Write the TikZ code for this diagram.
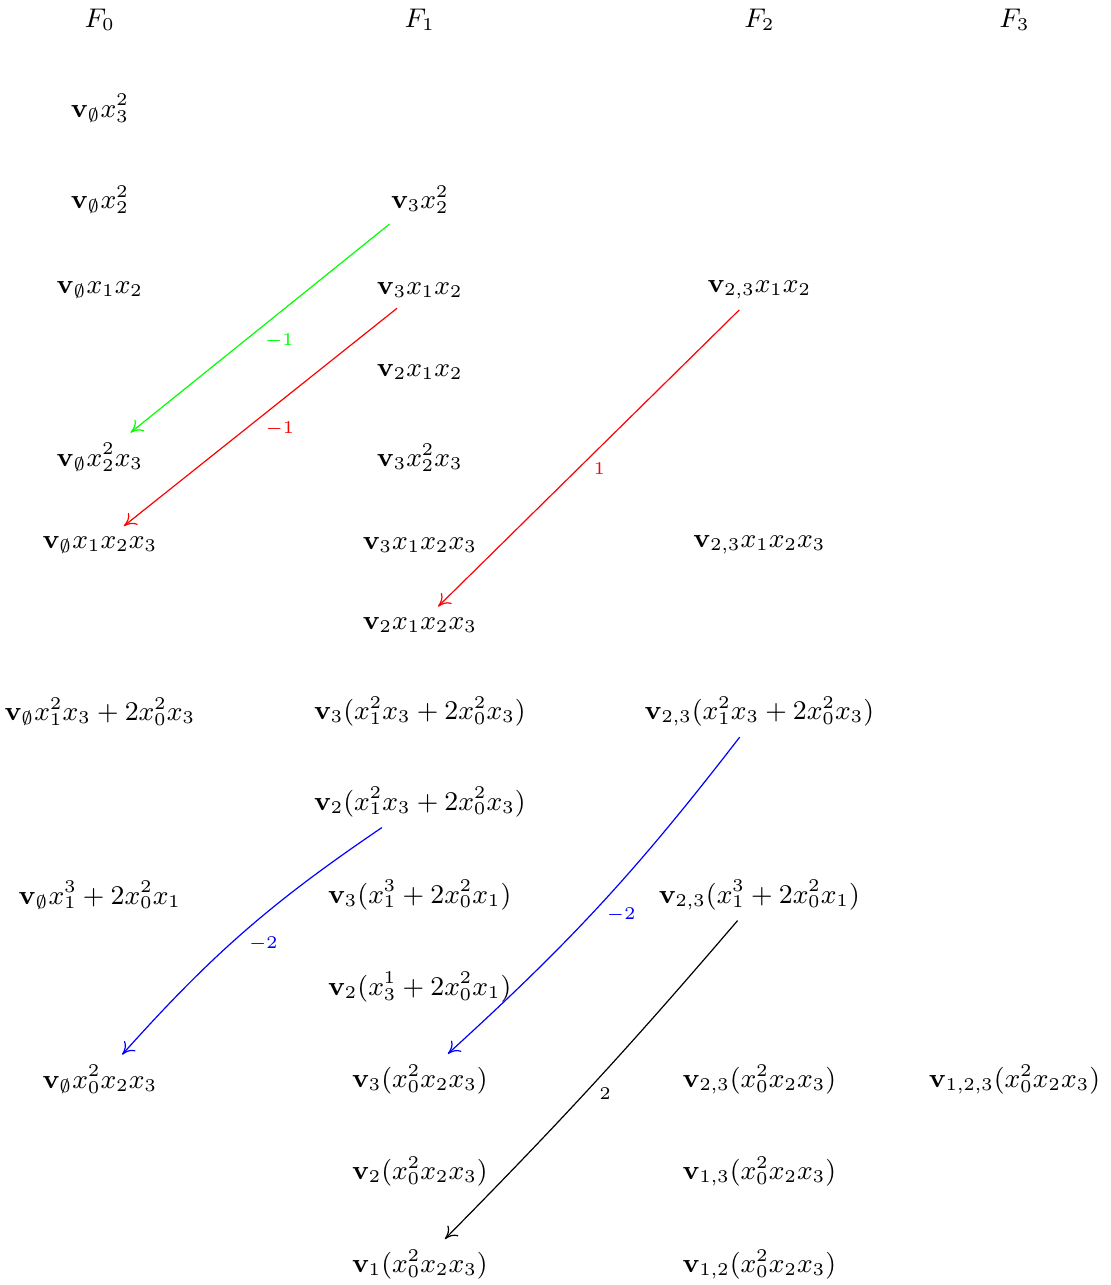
\documentclass[tikz,border=0pt]{standalone}
\usepackage{amsmath}
\usetikzlibrary{arrows.meta}

\begin{document}
\begin{tikzpicture}[>={Computer Modern Rightarrow[length=4pt,width=5pt]},
    every node/.style={font=\fontsize{8.9}{10.7}\selectfont},
    lab/.style={font=\fontsize{6.4}{7.7}\selectfont, auto, inner sep=1.5pt}]
  % Filtration of monomials, columns F_0 .. F_3
  \useasboundingbox (0,0) rectangle (13.02,-15.06);

  % Column headers
  \node (h0) at (1.17,-0.23) {$F_0$};
  \node (h1) at (4.92,-0.23) {$F_1$};
  \node (h2) at (8.90,-0.23) {$F_2$};
  \node (h3) at (11.89,-0.23) {$F_3$};

  % Column F_0
  \node (v0r1) at (1.17,-1.27) {$\mathbf{v}_\emptyset x_3^2$};
  \node (v0r2) at (1.17,-2.34) {$\mathbf{v}_\emptyset x_2^2$};
  \node (v0r3) at (1.17,-3.40) {$\mathbf{v}_\emptyset x_1x_2$};
  \node (v0r5) at (1.17,-5.36) {$\mathbf{v}_\emptyset x_2^2x_3$};
  \node (v0r6) at (1.17,-6.39) {$\mathbf{v}_\emptyset x_1x_2x_3$};
  \node (v0r8) at (1.17,-8.34) {$\mathbf{v}_\emptyset x_1^2x_3 + 2x_0^2x_3$};
  \node (v0r10) at (1.17,-10.49) {$\mathbf{v}_\emptyset x_1^3 + 2x_0^2x_1$};
  \node (v0r12) at (1.17,-12.65) {$\mathbf{v}_\emptyset x_0^2x_2x_3$};

  % Column F_1
  \node (v1r2) at (4.92,-2.34) {$\mathbf{v}_3 x_2^2$};
  \node (v1r3) at (4.92,-3.40) {$\mathbf{v}_3 x_1x_2$};
  \node (v1r4) at (4.92,-4.36) {$\mathbf{v}_2 x_1x_2$};
  \node (v1r5) at (4.92,-5.36) {$\mathbf{v}_3 x_2^2x_3$};
  \node (v1r6) at (4.92,-6.39) {$\mathbf{v}_3 x_1x_2x_3$};
  \node (v1r7) at (4.92,-7.32) {$\mathbf{v}_2 x_1x_2x_3$};
  \node (v1r8) at (4.92,-8.34) {$\mathbf{v}_3(x_1^2x_3 + 2x_0^2x_3)$};
  \node (v1r9) at (4.92,-9.40) {$\mathbf{v}_2(x_1^2x_3 + 2x_0^2x_3)$};
  \node (v1r10) at (4.92,-10.49) {$\mathbf{v}_3(x_1^3 + 2x_0^2x_1)$};
  \node (v1r11) at (4.92,-11.57) {$\mathbf{v}_2(x_3^1 + 2x_0^2x_1)$};
  \node (v1r12) at (4.92,-12.65) {$\mathbf{v}_3(x_0^2x_2x_3)$};
  \node (v1r13) at (4.92,-13.73) {$\mathbf{v}_2(x_0^2x_2x_3)$};
  \node (v1r14) at (4.92,-14.82) {$\mathbf{v}_1(x_0^2x_2x_3)$};

  % Column F_2
  \node (v2r3) at (8.90,-3.40) {$\mathbf{v}_{2,3}x_1x_2$};
  \node (v2r6) at (8.90,-6.39) {$\mathbf{v}_{2,3}x_1x_2x_3$};
  \node (v2r8) at (8.90,-8.34) {$\mathbf{v}_{2,3}(x_1^2x_3 + 2x_0^2x_3)$};
  \node (v2r10) at (8.90,-10.49) {$\mathbf{v}_{2,3}(x_1^3 + 2x_0^2x_1)$};
  \node (v2r12) at (8.90,-12.65) {$\mathbf{v}_{2,3}(x_0^2x_2x_3)$};
  \node (v2r13) at (8.90,-13.73) {$\mathbf{v}_{1,3}(x_0^2x_2x_3)$};
  \node (v2r14) at (8.90,-14.82) {$\mathbf{v}_{1,2}(x_0^2x_2x_3)$};

  % Column F_3
  \node (v3r12) at (11.89,-12.65) {$\mathbf{v}_{1,2,3}(x_0^2x_2x_3)$};

  % Differentials
  \draw[->, green] (v1r2) -- (v0r5) node[lab, midway] {$-1$};
  \draw[->, red] (v1r3) -- (v0r6) node[lab, midway] {$-1$};
  \draw[->, red] (v2r3) -- (v1r7) node[lab, midway] {$1$};
  \draw[->, blue] (v1r9) to[bend right=7] node[lab] {$-2$} (v0r12);
  \draw[->, blue] (v2r8) to[bend left=5] node[lab] {$-2$} (v1r12);
  \draw[->] (v2r10) to[bend left=2] node[lab] {$2$} (v1r14);
\end{tikzpicture}
\end{document}
